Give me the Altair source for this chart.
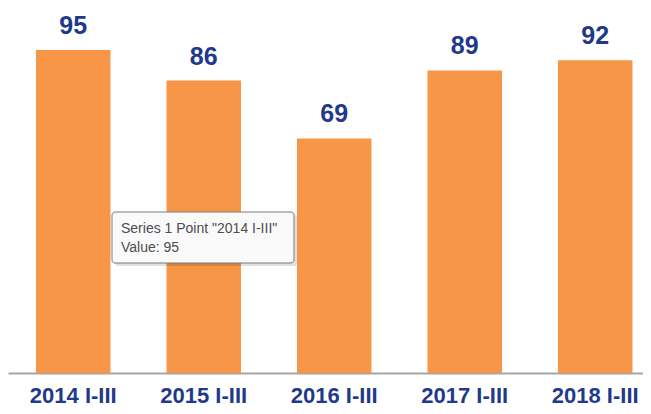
import altair as alt
import pandas as pd

categories = ["2014 I-III", "2015 I-III", "2016 I-III", "2017 I-III", "2018 I-III"]
values = [95, 86, 69, 89, 92]

df = pd.DataFrame({"cat": categories, "val": values})
tip = pd.DataFrame({"t": [f'Series 1 Point "{categories[0]}"\nValue: {values[0]}']})

FONT = "Liberation Sans, Arial, sans-serif"
BLUE = "#1F3A8A"

xenc = alt.X("cat:N", sort=categories, title=None,
             scale=alt.Scale(paddingInner=0.429, paddingOuter=0.1475, align=0.727, round=False),
             axis=alt.Axis(labelAngle=0, labelFont=FONT, labelFontSize=22, labelFontWeight="bold",
                           labelColor=BLUE, labelPadding=12, ticks=False, domainColor="#A6A6A6",
                           domainWidth=2, grid=False))
yenc = alt.Y("val:Q", scale=alt.Scale(domain=[0, 107.35], nice=False), axis=None)

base = alt.Chart(df)
bars = base.mark_bar(color="#F79646").encode(x=xenc, y=yenc)
labels = base.mark_text(font=FONT, fontSize=25, fontWeight="bold", color=BLUE,
                        baseline="alphabetic", dy=-16).encode(x=xenc, y=yenc, text="val:Q")

tb = alt.Chart(tip)
shadow = tb.mark_rect(color="#000000", opacity=0.12, cornerRadius=3).encode(
    x=alt.value(107), x2=alt.value(289), y=alt.value(207), y2=alt.value(258))
box = tb.mark_rect(fill="#FAFAFB", stroke="#7A7A7A", strokeWidth=1, cornerRadius=3).encode(
    x=alt.value(104), x2=alt.value(286), y=alt.value(204), y2=alt.value(255))
ttext = tb.mark_text(font=FONT, fontSize=14, color="#4D4D4D", align="left", baseline="alphabetic",
                     lineBreak="\n", lineHeight=19).encode(
    x=alt.value(113), y=alt.value(225), text="t:N")

chart = alt.layer(bars, labels, shadow, box, ttext).properties(
    width=635, height=365, padding={"left": 0, "top": 0, "right": 0, "bottom": 0}
).configure_view(stroke=None)

chart.save("out.html", embed_options={"renderer": "svg", "actions": False})
